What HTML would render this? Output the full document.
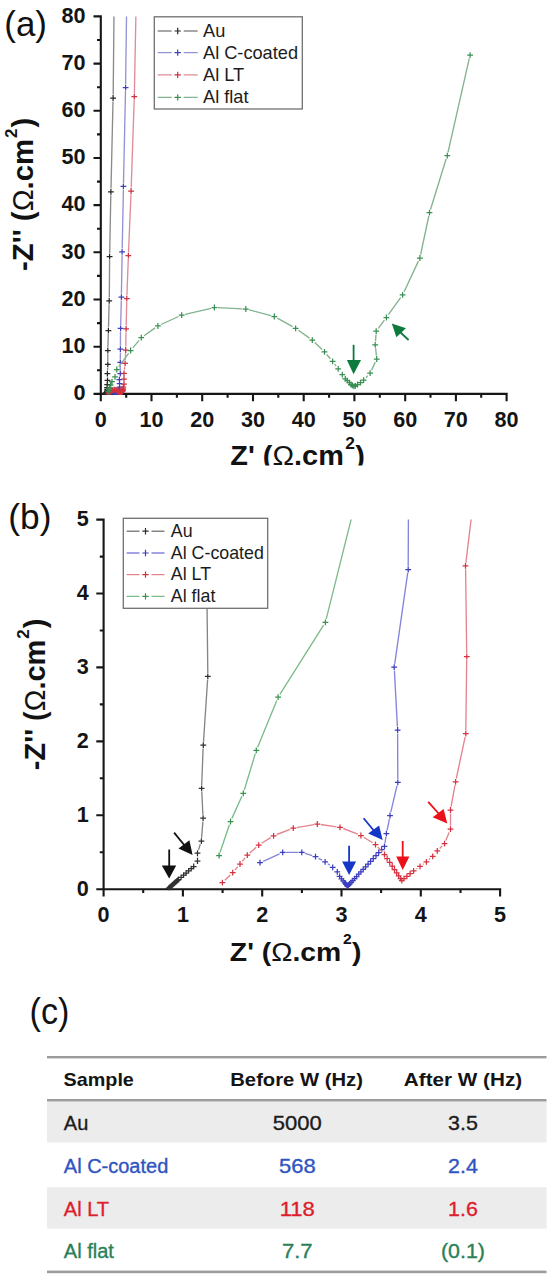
<!DOCTYPE html>
<html><head><meta charset="utf-8"><style>
html,body{margin:0;padding:0;background:#fff;}
body{width:550px;height:1280px;position:relative;overflow:hidden;font-family:"Liberation Sans",sans-serif;}
svg{position:absolute;left:0;top:0;}
</style></head><body>
<svg width="550" height="1280" viewBox="0 0 550 1280" font-family="'Liberation Sans', sans-serif">
<defs>
<clipPath id="ca"><rect x="100.8" y="16.4" width="407.8" height="378.5"/></clipPath>
<clipPath id="cb"><rect x="103.6" y="519.6" width="398.5" height="370.6"/></clipPath>
<clipPath id="cat"><rect x="0" y="0" width="550" height="465.5"/></clipPath>
</defs>
<path d="M99.8 393.9H507.7M100.8 15.3V393.9M100.8 393.9v7.3M151.5 393.9v7.3M202.2 393.9v7.3M253.0 393.9v7.3M303.7 393.9v7.3M354.4 393.9v7.3M405.2 393.9v7.3M455.9 393.9v7.3M506.6 393.9v7.3M126.2 393.9v3.8M176.9 393.9v3.8M227.6 393.9v3.8M278.3 393.9v3.8M329.1 393.9v3.8M379.8 393.9v3.8M430.5 393.9v3.8M481.2 393.9v3.8M100.8 393.9h-7.3M100.8 346.7h-7.3M100.8 299.5h-7.3M100.8 252.3h-7.3M100.8 205.1h-7.3M100.8 158.0h-7.3M100.8 110.8h-7.3M100.8 63.6h-7.3M100.8 16.4h-7.3M100.8 370.3h-3.8M100.8 323.1h-3.8M100.8 275.9h-3.8M100.8 228.7h-3.8M100.8 181.6h-3.8M100.8 134.4h-3.8M100.8 87.2h-3.8M100.8 40.0h-3.8" stroke="#161616" stroke-width="2.1" fill="none"/>
<g clip-path="url(#ca)"><path d="M107.5 370.2L107.7 367.8M107.8 361.0L107.8 354.1M107.9 347.3L108.3 334.1M108.5 327.3L109.1 304.3M109.3 297.5L109.6 260.0M109.7 253.2L110.8 195.3M111.0 188.5L113.0 101.4M113.2 94.6L114.4 -27.4" stroke="#8a8a8a" stroke-width="1.35" fill="none"/><path d="M102.1 393.8h5.8M105.0 390.9v5.8M102.1 393.8h5.8M105.0 390.9v5.8M102.2 393.7h5.8M105.1 390.8v5.8M102.2 393.7h5.8M105.1 390.8v5.8M102.3 393.6h5.8M105.2 390.7v5.8M102.3 393.6h5.8M105.2 390.7v5.8M102.4 393.5h5.8M105.3 390.6v5.8M102.5 393.5h5.8M105.4 390.6v5.8M102.5 393.4h5.8M105.4 390.5v5.8M102.6 393.4h5.8M105.5 390.5v5.8M102.6 393.3h5.8M105.5 390.4v5.8M102.7 393.3h5.8M105.6 390.4v5.8M102.9 393.1h5.8M105.8 390.2v5.8M103.0 393.0h5.8M105.9 390.1v5.8M103.2 392.9h5.8M106.1 390.0v5.8M103.3 392.7h5.8M106.2 389.8v5.8M103.5 392.6h5.8M106.4 389.7v5.8M103.7 392.5h5.8M106.6 389.6v5.8M103.9 392.1h5.8M106.8 389.2v5.8M103.9 391.6h5.8M106.8 388.7v5.8M104.2 390.8h5.8M107.1 387.9v5.8M104.3 389.4h5.8M107.2 386.5v5.8M104.2 387.5h5.8M107.1 384.6v5.8M104.3 384.7h5.8M107.2 381.8v5.8M104.6 380.3h5.8M107.5 377.4v5.8M104.5 373.6h5.8M107.4 370.7v5.8M104.9 364.4h5.8M107.8 361.5v5.8M104.9 350.7h5.8M107.8 347.8v5.8M105.5 330.7h5.8M108.4 327.8v5.8M106.3 300.9h5.8M109.2 298.0v5.8M106.7 256.6h5.8M109.6 253.7v5.8M108.0 191.9h5.8M110.9 189.0v5.8M110.2 98.0h5.8M113.1 95.1v5.8M111.5 -30.8h5.8M114.4 -33.7v5.8" stroke="#262626" stroke-width="1.25" fill="none"/></g>
<g clip-path="url(#ca)"><path d="M120.3 370.1L120.3 365.7M120.3 358.9L120.4 352.5M120.4 345.7L120.5 331.7M120.7 324.9L121.3 300.6M121.4 293.8L122.1 255.3M122.2 248.5L123.4 189.7M123.5 182.9L125.5 91.1M125.6 84.3L127.1 -27.4" stroke="#9292d4" stroke-width="1.35" fill="none"/><path d="M107.9 392.2h5.8M110.8 389.3v5.8M109.4 391.6h5.8M112.3 388.7v5.8M110.6 391.6h5.8M113.5 388.7v5.8M111.5 391.8h5.8M114.4 388.9v5.8M112.1 392.1h5.8M115.0 389.2v5.8M112.6 392.5h5.8M115.5 389.6v5.8M112.8 392.8h5.8M115.7 389.9v5.8M113.0 393.1h5.8M115.9 390.2v5.8M113.1 393.2h5.8M116.0 390.3v5.8M113.2 393.4h5.8M116.1 390.5v5.8M113.3 393.5h5.8M116.2 390.6v5.8M113.4 393.6h5.8M116.3 390.7v5.8M113.5 393.7h5.8M116.4 390.8v5.8M113.5 393.7h5.8M116.4 390.8v5.8M113.6 393.7h5.8M116.5 390.8v5.8M113.6 393.6h5.8M116.5 390.7v5.8M113.7 393.5h5.8M116.6 390.6v5.8M113.8 393.4h5.8M116.7 390.5v5.8M114.0 393.2h5.8M116.9 390.3v5.8M114.1 393.1h5.8M117.0 390.2v5.8M114.2 392.9h5.8M117.1 390.0v5.8M114.4 392.8h5.8M117.3 389.9v5.8M114.5 392.6h5.8M117.4 389.7v5.8M114.7 392.5h5.8M117.6 389.6v5.8M114.8 392.3h5.8M117.7 389.4v5.8M115.0 392.1h5.8M117.9 389.2v5.8M115.1 391.9h5.8M118.0 389.0v5.8M115.3 391.8h5.8M118.2 388.9v5.8M115.5 391.6h5.8M118.4 388.7v5.8M115.7 391.4h5.8M118.6 388.5v5.8M115.9 391.2h5.8M118.8 388.3v5.8M116.0 390.4h5.8M118.9 387.5v5.8M116.2 389.2h5.8M119.1 386.3v5.8M116.7 387.1h5.8M119.6 384.2v5.8M116.7 383.7h5.8M119.6 380.8v5.8M116.5 379.7h5.8M119.4 376.8v5.8M117.4 373.5h5.8M120.3 370.6v5.8M117.4 362.3h5.8M120.3 359.4v5.8M117.5 349.1h5.8M120.4 346.2v5.8M117.7 328.3h5.8M120.6 325.4v5.8M118.5 297.2h5.8M121.4 294.3v5.8M119.2 251.9h5.8M122.1 249.0v5.8M120.5 186.3h5.8M123.4 183.4v5.8M122.7 87.7h5.8M125.6 84.8v5.8M124.3 -30.8h5.8M127.2 -33.7v5.8" stroke="#4040b8" stroke-width="1.25" fill="none"/></g>
<g clip-path="url(#ca)"><path d="M124.4 369.9L124.7 366.7M125.3 359.9L125.6 353.4M125.8 346.6L126.0 332.2M126.2 325.4L126.7 302.0M126.9 295.2L128.3 259.0M128.5 252.2L131.0 194.4M131.2 187.6L134.2 100.0M134.4 93.2L136.7 -27.4" stroke="#e08c98" stroke-width="1.35" fill="none"/><path d="M105.5 393.5h5.8M108.4 390.6v5.8M106.2 392.8h5.8M109.1 389.9v5.8M106.6 392.3h5.8M109.5 389.4v5.8M107.1 391.7h5.8M110.0 388.8v5.8M107.8 391.1h5.8M110.7 388.2v5.8M108.8 390.5h5.8M111.7 387.6v5.8M110.0 390.0h5.8M112.9 387.1v5.8M111.6 389.7h5.8M114.5 386.8v5.8M113.0 389.9h5.8M115.9 387.0v5.8M114.4 390.5h5.8M117.3 387.6v5.8M115.3 391.0h5.8M118.2 388.1v5.8M115.9 391.7h5.8M118.8 388.8v5.8M116.0 391.9h5.8M118.9 389.0v5.8M116.2 392.2h5.8M119.1 389.3v5.8M116.4 392.4h5.8M119.3 389.5v5.8M116.5 392.6h5.8M119.4 389.7v5.8M116.6 392.9h5.8M119.5 390.0v5.8M116.8 393.0h5.8M119.7 390.1v5.8M116.9 393.2h5.8M119.8 390.3v5.8M117.0 393.3h5.8M119.9 390.4v5.8M117.1 393.2h5.8M120.0 390.3v5.8M117.3 393.1h5.8M120.2 390.2v5.8M117.5 392.9h5.8M120.4 390.0v5.8M117.7 392.7h5.8M120.6 389.8v5.8M118.1 392.4h5.8M121.0 389.5v5.8M118.6 392.1h5.8M121.5 389.2v5.8M119.0 391.8h5.8M121.9 388.9v5.8M119.2 391.5h5.8M122.1 388.6v5.8M119.7 391.0h5.8M122.6 388.1v5.8M120.1 390.1h5.8M123.0 387.2v5.8M120.1 388.8h5.8M123.0 385.9v5.8M120.4 387.0h5.8M123.3 384.1v5.8M121.1 384.0h5.8M124.0 381.1v5.8M121.1 379.1h5.8M124.0 376.2v5.8M121.1 373.3h5.8M124.0 370.4v5.8M122.2 363.3h5.8M125.1 360.4v5.8M122.8 350.0h5.8M125.7 347.1v5.8M123.2 328.8h5.8M126.1 325.9v5.8M123.9 298.6h5.8M126.8 295.7v5.8M125.5 255.6h5.8M128.4 252.7v5.8M128.2 191.0h5.8M131.1 188.1v5.8M131.4 96.6h5.8M134.3 93.7v5.8M133.9 -30.8h5.8M136.8 -33.7v5.8" stroke="#d0303f" stroke-width="1.25" fill="none"/></g>
<g clip-path="url(#ca)"><path d="M118.8 366.8L128.6 353.3M132.8 347.9L139.1 340.4M144.1 335.8L155.1 327.9M161.0 324.5L178.6 316.5M185.0 314.3L211.1 308.3M217.8 307.7L242.4 308.8M249.1 309.8L271.0 315.6M277.3 318.2L292.6 326.7M298.4 330.3L309.5 338.1M314.8 342.5L322.1 349.5M326.7 354.5L330.4 358.8M334.6 364.1L336.2 366.2M365.9 377.7L367.8 375.6M371.6 370.1L375.3 362.1M376.4 355.6L375.6 348.2M375.5 341.4L376.0 334.5M378.3 328.4L384.4 320.2M388.4 314.7L400.6 297.6M404.1 291.7L418.4 261.1M420.6 254.7L428.8 216.0M430.5 209.5L446.2 158.8M448.0 152.3L469.3 58.4" stroke="#82b38e" stroke-width="1.35" fill="none"/><path d="M105.3 391.7h5.8M108.2 388.8v5.8M106.0 389.6h5.8M108.9 386.7v5.8M106.8 387.8h5.8M109.7 384.9v5.8M107.7 385.0h5.8M110.6 382.1v5.8M109.1 381.6h5.8M112.0 378.7v5.8M112.1 376.9h5.8M115.0 374.0v5.8M113.9 369.5h5.8M116.8 366.6v5.8M127.7 350.5h5.8M130.6 347.6v5.8M138.4 337.7h5.8M141.3 334.8v5.8M155.0 325.9h5.8M157.9 323.1v5.8M178.8 315.1h5.8M181.7 312.2v5.8M211.5 307.5h5.8M214.4 304.6v5.8M242.9 309.0h5.8M245.8 306.1v5.8M271.4 316.5h5.8M274.3 313.6v5.8M292.7 328.3h5.8M295.6 325.4v5.8M309.4 340.1h5.8M312.3 337.2v5.8M321.6 351.9h5.8M324.5 349.0v5.8M329.7 361.3h5.8M332.6 358.4v5.8M335.3 368.9h5.8M338.2 366.0v5.8M339.4 374.6h5.8M342.3 371.7v5.8M342.4 378.8h5.8M345.3 375.9v5.8M344.4 380.7h5.8M347.3 377.8v5.8M346.5 382.6h5.8M349.4 379.7v5.8M348.0 384.5h5.8M350.9 381.6v5.8M349.5 385.4h5.8M352.4 382.5v5.8M351.0 386.3h5.8M353.9 383.4v5.8M352.5 385.9h5.8M355.4 383.0v5.8M354.6 384.5h5.8M357.5 381.6v5.8M357.6 382.6h5.8M360.5 379.7v5.8M360.7 380.2h5.8M363.6 377.3v5.8M367.2 373.1h5.8M370.1 370.2v5.8M373.8 359.0h5.8M376.7 356.1v5.8M372.3 344.8h5.8M375.2 341.9v5.8M373.3 331.1h5.8M376.2 328.2v5.8M383.5 317.5h5.8M386.4 314.6v5.8M399.7 294.8h5.8M402.6 291.9v5.8M417.0 258.0h5.8M419.9 255.1v5.8M426.6 212.7h5.8M429.5 209.8v5.8M444.4 155.6h5.8M447.3 152.7v5.8M467.2 55.1h5.8M470.1 52.2v5.8" stroke="#3a9052" stroke-width="1.25" fill="none"/></g>
<text transform="translate(85.50 400.20)" font-size="21.60" font-weight="bold" fill="#141414" text-anchor="end">0</text>
<text transform="translate(100.80 426.50)" font-size="21.60" font-weight="bold" fill="#141414" text-anchor="middle">0</text>
<text transform="translate(85.50 353.01)" font-size="21.60" font-weight="bold" fill="#141414" text-anchor="end">10</text>
<text transform="translate(151.53 426.50)" font-size="21.60" font-weight="bold" fill="#141414" text-anchor="middle">10</text>
<text transform="translate(85.50 305.82)" font-size="21.60" font-weight="bold" fill="#141414" text-anchor="end">20</text>
<text transform="translate(202.25 426.50)" font-size="21.60" font-weight="bold" fill="#141414" text-anchor="middle">20</text>
<text transform="translate(85.50 258.64)" font-size="21.60" font-weight="bold" fill="#141414" text-anchor="end">30</text>
<text transform="translate(252.98 426.50)" font-size="21.60" font-weight="bold" fill="#141414" text-anchor="middle">30</text>
<text transform="translate(85.50 211.45)" font-size="21.60" font-weight="bold" fill="#141414" text-anchor="end">40</text>
<text transform="translate(303.70 426.50)" font-size="21.60" font-weight="bold" fill="#141414" text-anchor="middle">40</text>
<text transform="translate(85.50 164.26)" font-size="21.60" font-weight="bold" fill="#141414" text-anchor="end">50</text>
<text transform="translate(354.43 426.50)" font-size="21.60" font-weight="bold" fill="#141414" text-anchor="middle">50</text>
<text transform="translate(85.50 117.07)" font-size="21.60" font-weight="bold" fill="#141414" text-anchor="end">60</text>
<text transform="translate(405.15 426.50)" font-size="21.60" font-weight="bold" fill="#141414" text-anchor="middle">60</text>
<text transform="translate(85.50 69.89)" font-size="21.60" font-weight="bold" fill="#141414" text-anchor="end">70</text>
<text transform="translate(455.88 426.50)" font-size="21.60" font-weight="bold" fill="#141414" text-anchor="middle">70</text>
<text transform="translate(85.50 22.70)" font-size="21.60" font-weight="bold" fill="#141414" text-anchor="end">80</text>
<text transform="translate(506.60 426.50)" font-size="21.60" font-weight="bold" fill="#141414" text-anchor="middle">80</text>
<path d="M102.5 889.2H501.2M103.6 518.6V889.2M103.6 889.2v7.3M182.9 889.2v7.3M262.2 889.2v7.3M341.5 889.2v7.3M420.8 889.2v7.3M500.1 889.2v7.3M143.2 889.2v3.8M222.6 889.2v3.8M301.9 889.2v3.8M381.1 889.2v3.8M460.5 889.2v3.8M103.6 889.2h-7.3M103.6 815.3h-7.3M103.6 741.4h-7.3M103.6 667.4h-7.3M103.6 593.5h-7.3M103.6 519.6h-7.3M103.6 852.2h-3.8M103.6 778.3h-3.8M103.6 704.4h-3.8M103.6 630.5h-3.8M103.6 556.6h-3.8" stroke="#161616" stroke-width="2.1" fill="none"/>
<g clip-path="url(#cb)"><path d="M197.5 857.6L197.5 856.5M198.5 849.9L200.3 844.3M201.6 837.7L202.9 821.6M202.9 814.8L201.8 791.8M201.7 785.0L203.1 748.5M203.5 741.7L207.6 679.7M207.8 672.9L206.7 574.7M206.8 567.9L212.9 430.6M213.0 423.8L213.0 216.2M213.1 209.4L222.4 -97.9M222.6 -104.7L235.1 -563.6M235.3 -570.4L241.6 -1258.5M241.6 -1265.3L261.3 -2271.2M261.5 -2278.0L296.2 -3742.2M296.3 -3749.0L316.1 -5760.2" stroke="#858585" stroke-width="1.35" fill="none"/><path d="M165.7 888.3h5.8M168.6 885.4v5.8M166.6 887.5h5.8M169.5 884.6v5.8M167.5 886.7h5.8M170.4 883.8v5.8M168.4 885.9h5.8M171.3 883.0v5.8M169.3 885.1h5.8M172.2 882.2v5.8M170.2 884.3h5.8M173.1 881.4v5.8M171.1 883.5h5.8M174.0 880.6v5.8M172.0 882.7h5.8M174.9 879.8v5.8M172.9 881.9h5.8M175.8 879.0v5.8M173.8 881.1h5.8M176.7 878.2v5.8M174.7 880.3h5.8M177.6 877.4v5.8M175.6 879.5h5.8M178.5 876.6v5.8M178.2 877.3h5.8M181.1 874.4v5.8M180.7 875.2h5.8M183.6 872.3v5.8M183.2 873.0h5.8M186.1 870.1v5.8M185.7 870.8h5.8M188.6 867.9v5.8M188.3 868.7h5.8M191.2 865.8v5.8M190.8 866.5h5.8M193.7 863.6v5.8M194.6 861.0h5.8M197.5 858.1v5.8M194.6 853.1h5.8M197.5 850.2v5.8M198.5 841.1h5.8M201.4 838.2v5.8M200.2 818.2h5.8M203.1 815.3v5.8M198.7 788.4h5.8M201.6 785.5v5.8M200.4 745.1h5.8M203.3 742.2v5.8M204.9 676.3h5.8M207.8 673.4v5.8M203.8 571.3h5.8M206.7 568.4v5.8M210.1 427.2h5.8M213.0 424.3v5.8M210.1 212.8h5.8M213.0 209.9v5.8M219.7 -101.3h5.8M222.6 -104.2v5.8M232.3 -567.0h5.8M235.2 -569.9v5.8M238.7 -1261.9h5.8M241.6 -1264.8v5.8M258.5 -2274.6h5.8M261.4 -2277.5v5.8M293.4 -3745.6h5.8M296.3 -3748.5v5.8M313.2 -5763.6h5.8M316.1 -5766.5v5.8" stroke="#303030" stroke-width="1.25" fill="none"/></g>
<g clip-path="url(#cb)"><path d="M263.1 861.3L279.6 853.8M286.1 852.4L298.4 852.4M305.0 853.4L312.2 855.7M318.5 858.3L322.1 860.2M327.8 863.8L329.9 865.3M385.0 843.0L385.9 837.0M387.1 830.3L389.4 818.8M390.8 812.2L397.0 785.7M397.8 779.0L397.6 733.4M397.4 726.6L394.4 670.6M394.7 663.9L407.7 572.9M408.2 566.1L408.9 398.1M408.9 391.3L409.7 191.1M409.7 184.3L412.8 -134.9M413.0 -141.7L425.5 -622.8M425.6 -629.6L436.6 -1332.4M436.7 -1339.2L457.2 -2359.9M457.4 -2366.7L491.3 -3904.8M491.4 -3911.6L515.9 -5760.2" stroke="#8484dc" stroke-width="1.35" fill="none"/><path d="M257.1 862.7h5.8M260.0 859.8v5.8M279.8 852.4h5.8M282.7 849.5v5.8M298.9 852.4h5.8M301.8 849.5v5.8M312.6 856.7h5.8M315.5 853.8v5.8M322.2 861.8h5.8M325.1 858.9v5.8M329.8 867.3h5.8M332.7 864.4v5.8M334.4 871.8h5.8M337.3 868.9v5.8M336.7 876.4h5.8M339.6 873.5v5.8M338.6 878.8h5.8M341.5 875.9v5.8M340.3 880.9h5.8M343.2 878.0v5.8M341.8 882.8h5.8M344.7 879.9v5.8M343.1 884.4h5.8M346.0 881.5v5.8M344.1 885.6h5.8M347.0 882.7v5.8M344.6 886.2h5.8M347.5 883.3v5.8M345.4 885.4h5.8M348.3 882.5v5.8M346.7 884.0h5.8M349.6 881.1v5.8M348.2 882.4h5.8M351.1 879.5v5.8M349.9 880.6h5.8M352.8 877.7v5.8M351.7 878.6h5.8M354.6 875.7v5.8M353.7 876.5h5.8M356.6 873.6v5.8M355.8 874.2h5.8M358.7 871.3v5.8M358.0 871.8h5.8M360.9 868.9v5.8M360.3 869.4h5.8M363.2 866.5v5.8M362.7 866.8h5.8M365.6 863.9v5.8M365.2 864.1h5.8M368.1 861.2v5.8M367.7 861.3h5.8M370.6 858.4v5.8M370.4 858.5h5.8M373.3 855.6v5.8M373.1 855.6h5.8M376.0 852.7v5.8M375.8 852.6h5.8M378.7 849.7v5.8M378.7 849.5h5.8M381.6 846.6v5.8M381.6 846.4h5.8M384.5 843.5v5.8M383.5 833.6h5.8M386.4 830.7v5.8M387.1 815.5h5.8M390.0 812.6v5.8M394.9 782.4h5.8M397.8 779.5v5.8M394.7 730.0h5.8M397.6 727.1v5.8M391.3 667.2h5.8M394.2 664.3v5.8M405.3 569.5h5.8M408.2 566.6v5.8M406.0 394.7h5.8M408.9 391.8v5.8M406.8 187.7h5.8M409.7 184.8v5.8M410.0 -138.3h5.8M412.9 -141.2v5.8M422.7 -626.2h5.8M425.6 -629.1v5.8M433.8 -1335.8h5.8M436.7 -1338.7v5.8M454.4 -2363.3h5.8M457.3 -2366.2v5.8M488.5 -3908.2h5.8M491.4 -3911.1v5.8M513.1 -5763.6h5.8M516.0 -5766.5v5.8" stroke="#3c3cc0" stroke-width="1.25" fill="none"/></g>
<g clip-path="url(#cb)"><path d="M224.8 880.3L230.3 875.1M234.9 870.1L237.8 866.6M242.2 861.4L245.1 857.8M249.8 852.9L256.2 847.3M261.6 843.3L270.7 837.6M276.8 834.5L290.1 829.4M296.6 827.6L314.0 824.6M320.7 824.5L336.6 826.8M343.2 828.5L357.8 834.2M363.8 837.2L372.6 842.7M377.8 847.0L382.2 851.9M416.4 868.9L417.2 868.3M422.8 864.4L423.7 863.8M429.0 859.6L430.1 858.6M439.7 848.5L442.1 846.0M445.8 840.5L449.2 832.2M450.5 825.7L450.5 813.4M451.1 806.6L455.0 785.1M456.3 778.5L465.1 737.1M465.8 730.3L466.7 660.0M466.7 653.2L465.6 569.3M465.9 562.6L483.8 413.6M484.4 406.8L492.8 205.1M493.0 198.3L499.2 -127.5M499.4 -134.3L510.3 -600.6M510.5 -607.4L534.9 -1273.3M535.1 -1280.1L577.7 -2286.0M577.9 -2292.8L627.7 -3764.4M627.8 -3771.2L666.6 -5760.2" stroke="#e4848e" stroke-width="1.35" fill="none"/><path d="M219.5 882.7h5.8M222.4 879.8v5.8M229.8 872.7h5.8M232.7 869.8v5.8M237.1 864.0h5.8M240.0 861.1v5.8M244.4 855.2h5.8M247.3 852.3v5.8M255.8 845.1h5.8M258.7 842.2v5.8M270.7 835.8h5.8M273.6 832.9v5.8M290.4 828.2h5.8M293.3 825.3v5.8M314.4 824.0h5.8M317.3 821.1v5.8M337.1 827.3h5.8M340.0 824.4v5.8M358.0 835.5h5.8M360.9 832.6v5.8M372.6 844.5h5.8M375.5 841.6v5.8M381.6 854.5h5.8M384.5 851.6v5.8M384.2 858.5h5.8M387.1 855.6v5.8M386.8 862.3h5.8M389.7 859.4v5.8M389.3 866.0h5.8M392.2 863.1v5.8M391.6 869.5h5.8M394.5 866.6v5.8M393.8 872.8h5.8M396.7 869.9v5.8M395.8 875.9h5.8M398.7 873.0v5.8M397.6 878.5h5.8M400.5 875.6v5.8M398.9 880.5h5.8M401.8 877.6v5.8M401.1 878.7h5.8M404.0 875.8v5.8M404.0 876.3h5.8M406.9 873.4v5.8M407.2 873.7h5.8M410.1 870.8v5.8M410.7 870.9h5.8M413.6 868.0v5.8M417.1 866.4h5.8M420.0 863.5v5.8M423.5 861.8h5.8M426.4 858.9v5.8M429.8 856.4h5.8M432.7 853.5v5.8M434.4 850.9h5.8M437.3 848.0v5.8M441.6 843.6h5.8M444.5 840.7v5.8M447.6 829.1h5.8M450.5 826.2v5.8M447.6 810.0h5.8M450.5 807.1v5.8M452.7 781.8h5.8M455.6 778.9v5.8M462.9 733.7h5.8M465.8 730.8v5.8M463.9 656.6h5.8M466.8 653.7v5.8M462.6 565.9h5.8M465.5 563.0v5.8M481.3 410.2h5.8M484.2 407.3v5.8M490.1 201.7h5.8M493.0 198.8v5.8M496.4 -130.9h5.8M499.3 -133.8v5.8M507.5 -604.0h5.8M510.4 -606.9v5.8M532.1 -1276.7h5.8M535.0 -1279.6v5.8M574.9 -2289.4h5.8M577.8 -2292.3v5.8M624.9 -3767.8h5.8M627.8 -3770.7v5.8M663.7 -5763.6h5.8M666.6 -5766.5v5.8" stroke="#d8303f" stroke-width="1.25" fill="none"/></g>
<g clip-path="url(#cb)"><path d="M220.1 852.3L229.4 824.7M231.9 818.4L241.9 796.3M244.3 790.0L255.3 753.6M257.6 747.2L276.8 700.4M279.9 694.4L323.6 625.2M326.2 619.1L353.4 510.3M356.2 504.3L567.9 212.6M572.1 207.3L735.0 12.2M740.0 7.6L993.7 -173.3M999.6 -176.7L1364.6 -343.8M1371.0 -346.0L1875.8 -462.8M1882.5 -463.4L2367.4 -441.5M2374.1 -440.5L2812.4 -324.0M2818.6 -321.4L3145.7 -139.9M3151.5 -136.3L3407.6 44.6M3412.8 48.9L3598.3 228.9M3602.9 233.9L3725.4 376.6M3729.6 381.9L3812.8 494.7M3816.8 500.2L3876.3 583.4M3880.3 588.9L3923.9 649.9M3928.3 655.0L3955.1 679.9M3960.1 684.5L3986.8 709.5M3991.4 714.4L4011.0 738.7M4016.0 743.2L4034.0 754.3M4039.8 757.9L4057.8 769.1M4063.9 769.9L4081.2 764.5M4087.2 761.6L4113.4 743.3M4119.1 739.6L4160.9 713.6M4166.4 709.7L4208.7 676.9M4213.7 672.3L4312.1 566.4M4315.9 560.9L4416.1 345.3M4417.2 338.8L4394.1 123.8M4394.0 117.0L4409.3 -90.5M4411.6 -96.7L4566.2 -305.6M4570.2 -311.1L4820.0 -660.4M4823.4 -666.2L5090.1 -1236.6M5092.3 -1243.0L5241.5 -1946.0M5243.2 -1952.6L5518.8 -2840.5M5520.5 -2847.1L5875.9 -4414.9" stroke="#7cbc88" stroke-width="1.35" fill="none"/><path d="M216.2 855.5h5.8M219.1 852.6v5.8M227.6 821.5h5.8M230.5 818.6v5.8M240.4 793.3h5.8M243.3 790.4v5.8M253.4 750.4h5.8M256.3 747.5v5.8M275.2 697.2h5.8M278.1 694.3v5.8M322.5 622.3h5.8M325.4 619.4v5.8M351.3 507.0h5.8M354.2 504.1v5.8M567.0 209.9h5.8M569.9 207.0v5.8M734.3 9.6h5.8M737.2 6.7v5.8M993.6 -175.2h5.8M996.5 -178.1v5.8M1364.7 -345.3h5.8M1367.6 -348.2v5.8M1876.2 -463.5h5.8M1879.1 -466.4v5.8M2367.9 -441.4h5.8M2370.8 -444.3v5.8M2812.8 -323.1h5.8M2815.7 -326.0v5.8M3145.8 -138.3h5.8M3148.7 -141.2v5.8M3407.5 46.5h5.8M3410.4 43.6v5.8M3597.8 231.3h5.8M3600.7 228.4v5.8M3724.7 379.2h5.8M3727.6 376.3v5.8M3811.9 497.4h5.8M3814.8 494.5v5.8M3875.4 586.1h5.8M3878.3 583.2v5.8M3923.0 652.7h5.8M3925.9 649.8v5.8M3954.7 682.2h5.8M3957.6 679.3v5.8M3986.4 711.8h5.8M3989.3 708.9v5.8M4010.2 741.4h5.8M4013.1 738.5v5.8M4034.0 756.1h5.8M4036.9 753.2v5.8M4057.8 770.9h5.8M4060.7 768.0v5.8M4081.6 763.5h5.8M4084.5 760.6v5.8M4113.3 741.4h5.8M4116.2 738.5v5.8M4160.9 711.8h5.8M4163.8 708.9v5.8M4208.4 674.8h5.8M4211.3 671.9v5.8M4311.5 564.0h5.8M4314.4 561.1v5.8M4414.6 342.2h5.8M4417.5 339.3v5.8M4390.8 120.4h5.8M4393.7 117.5v5.8M4406.7 -93.9h5.8M4409.6 -96.8v5.8M4565.3 -308.3h5.8M4568.2 -311.2v5.8M4819.1 -663.1h5.8M4822.0 -666.0v5.8M5088.7 -1239.7h5.8M5091.6 -1242.6v5.8M5239.3 -1949.3h5.8M5242.2 -1952.2v5.8M5516.9 -2843.8h5.8M5519.8 -2846.7v5.8M5873.7 -4418.3h5.8M5876.6 -4421.2v5.8" stroke="#36944e" stroke-width="1.25" fill="none"/></g>
<text transform="translate(88.80 895.80)" font-size="21.60" font-weight="bold" fill="#141414" text-anchor="end">0</text>
<text transform="translate(103.60 921.60)" font-size="21.60" font-weight="bold" fill="#141414" text-anchor="middle">0</text>
<text transform="translate(88.80 821.88)" font-size="21.60" font-weight="bold" fill="#141414" text-anchor="end">1</text>
<text transform="translate(182.90 921.60)" font-size="21.60" font-weight="bold" fill="#141414" text-anchor="middle">1</text>
<text transform="translate(88.80 747.96)" font-size="21.60" font-weight="bold" fill="#141414" text-anchor="end">2</text>
<text transform="translate(262.20 921.60)" font-size="21.60" font-weight="bold" fill="#141414" text-anchor="middle">2</text>
<text transform="translate(88.80 674.04)" font-size="21.60" font-weight="bold" fill="#141414" text-anchor="end">3</text>
<text transform="translate(341.50 921.60)" font-size="21.60" font-weight="bold" fill="#141414" text-anchor="middle">3</text>
<text transform="translate(88.80 600.12)" font-size="21.60" font-weight="bold" fill="#141414" text-anchor="end">4</text>
<text transform="translate(420.80 921.60)" font-size="21.60" font-weight="bold" fill="#141414" text-anchor="middle">4</text>
<text transform="translate(88.80 526.20)" font-size="21.60" font-weight="bold" fill="#141414" text-anchor="end">5</text>
<text transform="translate(500.10 921.60)" font-size="21.60" font-weight="bold" fill="#141414" text-anchor="middle">5</text>
<rect x="154.3" y="16.8" width="148.0" height="92.2" fill="#fff" stroke="#707070" stroke-width="1.3"/><path d="M157.7 31.0H171.7M183.7 31.0H197.7" stroke="#8a8a8a" stroke-width="1.4"/><path d="M174.5 31.0h6.4M177.7 27.8v6.4" stroke="#262626" stroke-width="1.2"/><text transform="translate(203.00 36.90)" font-size="18.20" font-weight="normal" fill="#1c1c1c" text-anchor="start">Au</text><path d="M157.7 52.6H171.7M183.7 52.6H197.7" stroke="#9292d4" stroke-width="1.4"/><path d="M174.5 52.6h6.4M177.7 49.4v6.4" stroke="#4040b8" stroke-width="1.2"/><text transform="translate(203.00 58.50)" font-size="18.20" font-weight="normal" fill="#1c1c1c" text-anchor="start">Al C-coated</text><path d="M157.7 74.9H171.7M183.7 74.9H197.7" stroke="#e08c98" stroke-width="1.4"/><path d="M174.5 74.9h6.4M177.7 71.7v6.4" stroke="#d0303f" stroke-width="1.2"/><text transform="translate(203.00 80.80)" font-size="18.20" font-weight="normal" fill="#1c1c1c" text-anchor="start">Al LT</text><path d="M157.7 97.4H171.7M183.7 97.4H197.7" stroke="#82b38e" stroke-width="1.4"/><path d="M174.5 97.4h6.4M177.7 94.2v6.4" stroke="#3a9052" stroke-width="1.2"/><text transform="translate(203.00 103.30)" font-size="18.20" font-weight="normal" fill="#1c1c1c" text-anchor="start">Al flat</text>
<rect x="123.3" y="518.3" width="144.4" height="90.0" fill="#fff" stroke="#707070" stroke-width="1.3"/><path d="M126.6 531.2H139.5M151.5 531.2H164.5" stroke="#858585" stroke-width="1.4"/><path d="M142.3 531.2h6.4M145.5 528.0v6.4" stroke="#303030" stroke-width="1.2"/><text transform="translate(170.80 536.90) scale(0.990 1)" font-size="18.00" font-weight="normal" fill="#1c1c1c" text-anchor="start">Au</text><path d="M126.6 553.0H139.5M151.5 553.0H164.5" stroke="#8484dc" stroke-width="1.4"/><path d="M142.3 553.0h6.4M145.5 549.8v6.4" stroke="#3c3cc0" stroke-width="1.2"/><text transform="translate(170.80 558.70) scale(0.990 1)" font-size="18.00" font-weight="normal" fill="#1c1c1c" text-anchor="start">Al C-coated</text><path d="M126.6 574.6H139.5M151.5 574.6H164.5" stroke="#e4848e" stroke-width="1.4"/><path d="M142.3 574.6h6.4M145.5 571.4v6.4" stroke="#d8303f" stroke-width="1.2"/><text transform="translate(170.80 580.30) scale(0.990 1)" font-size="18.00" font-weight="normal" fill="#1c1c1c" text-anchor="start">Al LT</text><path d="M126.6 596.4H139.5M151.5 596.4H164.5" stroke="#7cbc88" stroke-width="1.4"/><path d="M142.3 596.4h6.4M145.5 593.2v6.4" stroke="#36944e" stroke-width="1.2"/><text transform="translate(170.80 602.10) scale(0.990 1)" font-size="18.00" font-weight="normal" fill="#1c1c1c" text-anchor="start">Al flat</text>
<path d="M353.6 344.8L353.6 361.0" stroke="#0e7b3e" stroke-width="1.8"/><path d="M353.6 374.3L346.9 360.0L361.0 360.0Z" fill="#0e7b3e"/>
<path d="M408.6 340.0L400.0 332.0" stroke="#0e7b3e" stroke-width="1.8"/><path d="M391.8 323.6L405.9 328.2L396.4 337.3Z" fill="#0e7b3e"/>
<path d="M169.2 849.5L169.2 866.0" stroke="#111" stroke-width="1.8"/><path d="M169.2 878.5L161.8 865.4L176.2 865.4Z" fill="#111"/>
<path d="M174.1 832.6L185.0 846.0" stroke="#111" stroke-width="1.8"/><path d="M192.6 855.0L178.5 848.5L189.4 840.3Z" fill="#111"/>
<path d="M349.1 845.7L349.1 862.0" stroke="#1636c8" stroke-width="1.8"/><path d="M349.1 875.0L342.1 861.6L356.1 861.6Z" fill="#1636c8"/>
<path d="M363.6 818.2L375.0 832.0" stroke="#1636c8" stroke-width="1.8"/><path d="M382.7 840.0L368.2 833.6L379.1 825.5Z" fill="#1636c8"/>
<path d="M402.7 841.0L402.7 857.0" stroke="#ec1018" stroke-width="1.8"/><path d="M402.7 870.0L396.2 856.4L409.4 856.4Z" fill="#ec1018"/>
<path d="M428.2 801.8L440.0 815.0" stroke="#ec1018" stroke-width="1.8"/><path d="M447.3 823.6L432.7 817.3L443.6 809.0Z" fill="#ec1018"/>
<text transform="translate(4.30 36.30) scale(0.970 1)" font-size="36.00" font-weight="normal" fill="#111" text-anchor="start">(a)</text>
<text transform="translate(8.30 529.40) scale(0.980 1)" font-size="36.00" font-weight="normal" fill="#111" text-anchor="start">(b)</text>
<text transform="translate(29.50 1024.00) scale(0.950 1)" font-size="36.00" font-weight="normal" fill="#111" text-anchor="start">(c)</text>
<g clip-path="url(#cat)"><text transform="translate(297.6 464.6) scale(1.070 1)" font-size="27.0" fill="#121212" text-anchor="middle"><tspan font-weight="bold">Z' (</tspan><tspan font-weight="normal">&#937;</tspan><tspan font-weight="bold">.cm</tspan><tspan font-weight="bold" font-size="16.2" dx="1.4" dy="-15.7">2</tspan><tspan font-weight="bold" dx="0.3" dy="15.7">)</tspan></text></g>
<text transform="translate(295.6 960.5) scale(1.070 1)" font-size="26.5" fill="#121212" text-anchor="middle"><tspan font-weight="bold">Z' (</tspan><tspan font-weight="normal">&#937;</tspan><tspan font-weight="bold">.cm</tspan><tspan font-weight="bold" font-size="14.6" dx="1.6" dy="-16.7">2</tspan><tspan font-weight="bold" dx="0.3" dy="16.7">)</tspan></text>
<text transform="translate(33.3 194.3) rotate(-90) scale(1.013 1)" font-size="29.0" fill="#121212" text-anchor="middle"><tspan font-weight="bold">-Z'' (</tspan><tspan font-weight="normal">&#937;</tspan><tspan font-weight="bold">.cm</tspan><tspan font-weight="bold" font-size="16.8" dx="0.9" dy="-16.8">2</tspan><tspan font-weight="bold" dx="1.0" dy="16.8">)</tspan></text>
<text transform="translate(45.3 694.4) rotate(-90) scale(1.000 1)" font-size="29.0" fill="#121212" text-anchor="middle"><tspan font-weight="bold">-Z'' (</tspan><tspan font-weight="normal">&#937;</tspan><tspan font-weight="bold">.cm</tspan><tspan font-weight="bold" font-size="16.8" dx="0.9" dy="-16.8">2</tspan><tspan font-weight="bold" dx="1.0" dy="16.8">)</tspan></text>
<rect x="47" y="1100.5" width="499.5" height="42" fill="#ececec"/>
<rect x="47" y="1187.3" width="499.5" height="41.3" fill="#ececec"/>
<rect x="47" y="1056" width="499.5" height="2.4" fill="#9c9c9c"/>
<rect x="47" y="1099" width="499.5" height="2.4" fill="#9c9c9c"/>
<rect x="47" y="1270.6" width="499.5" height="2.6" fill="#9c9c9c"/>
<text transform="translate(63.60 1085.70) scale(1.040 1)" font-size="19.00" font-weight="bold" fill="#141414" text-anchor="start">Sample</text>
<text transform="translate(296.60 1085.70) scale(1.066 1)" font-size="19.00" font-weight="bold" fill="#141414" text-anchor="middle">Before W (Hz)</text>
<text transform="translate(463.00 1085.70) scale(1.090 1)" font-size="19.00" font-weight="bold" fill="#141414" text-anchor="middle">After W (Hz)</text>
<text transform="translate(63.80 1129.80)" font-size="20.00" font-weight="normal" fill="#1c1c1c" text-anchor="start" stroke="#1c1c1c" stroke-width="0.35">Au</text>
<text transform="translate(297.30 1129.80) scale(1.080 1)" font-size="20.40" font-weight="normal" fill="#1c1c1c" text-anchor="middle" stroke="#1c1c1c" stroke-width="0.35">5000</text>
<text transform="translate(463.00 1129.80) scale(1.050 1)" font-size="20.40" font-weight="normal" fill="#1c1c1c" text-anchor="middle" stroke="#1c1c1c" stroke-width="0.35">3.5</text>
<text transform="translate(63.80 1172.60)" font-size="20.00" font-weight="normal" fill="#2f55c0" text-anchor="start" stroke="#2f55c0" stroke-width="0.35">Al C-coated</text>
<text transform="translate(297.30 1172.60) scale(1.080 1)" font-size="20.40" font-weight="normal" fill="#2f55c0" text-anchor="middle" stroke="#2f55c0" stroke-width="0.35">568</text>
<text transform="translate(463.00 1172.60) scale(1.050 1)" font-size="20.40" font-weight="normal" fill="#2f55c0" text-anchor="middle" stroke="#2f55c0" stroke-width="0.35">2.4</text>
<text transform="translate(63.80 1215.60)" font-size="20.00" font-weight="normal" fill="#dc1e2c" text-anchor="start" stroke="#dc1e2c" stroke-width="0.35">Al LT</text>
<text transform="translate(297.30 1215.60) scale(1.080 1)" font-size="20.40" font-weight="normal" fill="#dc1e2c" text-anchor="middle" stroke="#dc1e2c" stroke-width="0.35">118</text>
<text transform="translate(463.00 1215.60) scale(1.050 1)" font-size="20.40" font-weight="normal" fill="#dc1e2c" text-anchor="middle" stroke="#dc1e2c" stroke-width="0.35">1.6</text>
<text transform="translate(63.80 1258.00)" font-size="20.00" font-weight="normal" fill="#2b7f57" text-anchor="start" stroke="#2b7f57" stroke-width="0.35">Al flat</text>
<text transform="translate(297.30 1258.00) scale(1.080 1)" font-size="20.40" font-weight="normal" fill="#2b7f57" text-anchor="middle" stroke="#2b7f57" stroke-width="0.35">7.7</text>
<text transform="translate(463.00 1258.00) scale(1.050 1)" font-size="20.40" font-weight="normal" fill="#2b7f57" text-anchor="middle" stroke="#2b7f57" stroke-width="0.35">(0.1)</text>
</svg>
</body></html>
